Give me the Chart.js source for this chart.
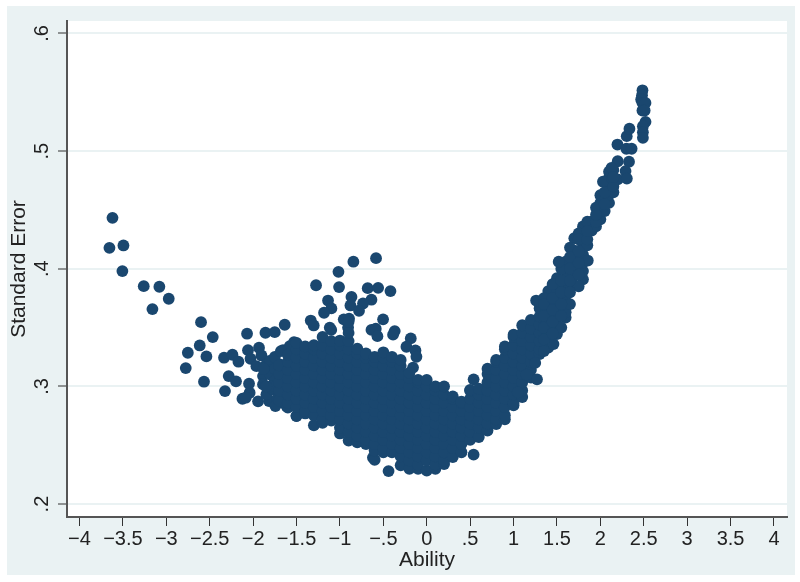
<!DOCTYPE html>
<html>
<head>
<meta charset="utf-8">
<script src="https://cdn.jsdelivr.net/npm/chart.js@4"></script>
<style>
  body { margin: 0; background: #fff; }
  #fundo { position: absolute; left: 7px; top: 6px; width: 788px; height: 569px; background: #eaf2f3; }
  #grafico { position: absolute; left: 0; top: 0; }
</style>
</head>
<body>
<div id="fundo"></div>
<canvas id="grafico" width="800" height="582"></canvas>
<script>
const xTicks = [-4, -3.5, -3, -2.5, -2, -1.5, -1, -0.5, 0, 0.5, 1, 1.5, 2, 2.5, 3, 3.5, 4];
const xTickLabels = ['\u22124', '\u22123.5', '\u22123', '\u22122.5', '\u22122', '\u22121.5', '\u22121', '\u2212.5', '0', '.5', '1', '1.5', '2', '2.5', '3', '3.5', '4'];
const yTicks = [0.2, 0.3, 0.4, 0.5, 0.6];
const yTickLabels = ['.2', '.3', '.4', '.5', '.6'];

// pontos isolados a esquerda
const leftPoints = [
  [-3.62,.4433],[-3.655,.4178],[-3.494,.4198],[-3.506,.398],[-3.26,.3852],[-3.08,.3847],[-2.972,.3745],[-3.16,.3657],
  [-2.6,.3546],[-2.07,.3448],[-1.858,.3456],[-1.751,.3461],[-2.465,.3419],[-2.615,.3348],[-2.752,.3286],[-2.538,.3255],
  [-2.776,.3156],[-2.335,.3244],[-2.238,.3269],[-2.169,.321],[-2.281,.3088],[-2.197,.3043],[-2.566,.304],[-2.324,.296],
  [-2.047,.3023],[-2.04,.2946],[-2.123,.2895],[-2.085,.2904],[-1.943,.2873],[-2.059,.3308],[-2.03,.3235],[-1.932,.3329],
  [-1.904,.3263],[-1.962,.3172],[-1.847,.3187],[-1.886,.3088],[-1.886,.3017],[-1.817,.2875],[-1.743,.2833],[-1.847,.2932],
  [-1.77,.2975],[-1.655,.3308],[-1.529,.3376],[-1.616,.2833],[-1.501,.2748],[-1.694,.3187],[-1.578,.3342],[-1.636,.3524],
  [-1.8,.31],[-1.75,.305],[-1.8,.322],[-1.75,.315],[-1.8,.3],[-1.72,.29],[-1.65,.29],[-1.85,.3],[-1.88,.315],[-1.75,.325],[-1.68,.33]
];

// pontos isolados acima da massa
const upperPoints = [
  [-.845,.406],[-.584,.409],[-1.017,.3974],[-1.275,.386],[-1.01,.3844],[-.68,.3835],[-.56,.3838],[-.418,.381],
  [-.867,.376],[-.637,.3737],[-.734,.3705],[-.879,.3688],[-.78,.3643],[-1.137,.373],[-1.098,.3663],[-1.183,.3626],
  [-.503,.357],[-1.336,.356],[-1.302,.3518],[-.956,.357],[-.895,.3575],[-.906,.35],[-1.117,.35],[-.637,.348],
  [-.587,.349],[-.568,.3427],[-.369,.347],[-.388,.344],[-.184,.3408],[-.234,.3337],[-.13,.3306],[-.119,.3252],[-.158,.316]
];

// pontos isolados abaixo
const lowerPoints = [[-.44,.228],[.54,.242],[.54,.306],[-.62,.2395],[-.6,.2375]];

// massa principal, por coluna de ability
const columnAbility = [-1.7,-1.6,-1.5,-1.4,-1.3,-1.2,-1.1,-1,-.9,-.8,-.7,-.6,-.5,-.4,-.3,-.2,-.1,0,.1,.2,.3,.4,.5,.6,.7,.8,.9,1,1.1,1.2,1.3,1.4,1.5,1.6,1.7,1.8,1.9,2,2.1];
const columnSE = [
  [.288,.2965,.3035,.3105,.318],
  [.282,.286,.293,.3,.307,.314,.321,.327],
  [.275,.2825,.2895,.2965,.3035,.3105,.3175,.3245,.3315,.337],
  [.277,.279,.286,.293,.3,.307,.314,.321,.328,.334],
  [.267,.2755,.2825,.2895,.2965,.3035,.3105,.3175,.3245,.3315,.335],
  [.269,.272,.279,.286,.293,.3,.307,.314,.321,.328,.335,.342],
  [.271,.2755,.2825,.2895,.2965,.3035,.3105,.3175,.3245,.3315,.3385,.348],
  [.26,.265,.272,.279,.286,.293,.3,.307,.314,.321,.328,.335,.339],
  [.254,.2615,.2685,.2755,.2825,.2895,.2965,.3035,.3105,.3175,.3245,.3315,.3385,.3455,.355],
  [.2525,.258,.265,.272,.279,.286,.293,.3,.307,.314,.321,.328,.332],
  [.251,.2545,.2615,.2685,.2755,.2825,.2895,.2965,.3035,.3105,.3175,.3245,.328],
  [.2455,.251,.258,.265,.272,.279,.286,.293,.3,.307,.314,.321,.325],
  [.244,.2475,.2545,.2615,.2685,.2755,.2825,.2895,.2965,.3035,.3105,.3175,.3245,.329],
  [.244,.251,.258,.265,.272,.279,.286,.293,.3,.307,.314,.321,.325],
  [.233,.2405,.2475,.2545,.2615,.2685,.2755,.2825,.2895,.2965,.3035,.3105,.3175,.3225],
  [.23,.237,.244,.251,.258,.265,.272,.279,.286,.293,.3,.307,.3115],
  [.23,.2335,.2405,.2475,.2545,.2615,.2685,.2755,.2825,.2895,.2965,.3035,.3055],
  [.2285,.237,.244,.251,.258,.265,.272,.279,.286,.293,.3,.3055],
  [.23,.2335,.2405,.2475,.2545,.2615,.2685,.2755,.2825,.2895,.2965,.3],
  [.234,.237,.244,.251,.258,.265,.272,.279,.286,.293,.3],
  [.24,.2475,.2545,.2615,.2685,.2755,.2825,.2895,.2915],
  [.244,.251,.258,.265,.272,.279,.286,.287],
  [.2545,.2615,.2685,.2755,.2825,.2895,.2965,.297],
  [.257,.265,.272,.279,.286,.293,.298],
  [.2625,.2685,.2755,.2825,.2895,.2965,.3035,.3105,.315],
  [.268,.272,.279,.286,.293,.3,.307,.314,.321,.3225],
  [.272,.2755,.2825,.2895,.2965,.3035,.3105,.3175,.3245,.3315,.334],
  [.284,.286,.293,.3,.307,.314,.321,.328,.335,.342,.344],
  [.291,.2965,.3035,.3105,.3175,.3245,.3315,.3385,.3455,.352],
  [.3075,.314,.321,.328,.335,.342,.349,.3565],
  [.3275,.3315,.3385,.3455,.3525,.3595,.3665,.372],
  [.333,.342,.349,.356,.363,.37,.377,.381],
  [.3445,.3525,.3595,.3665,.3735,.3805,.387,.392],
  [.3585,.363,.37,.377,.384,.391,.398,.406],
  [.386,.3945,.4015,.4085,.4155,.426],
  [.391,.398,.405,.412,.419,.426,.433,.436],
  [.4325,.44],
  [.442,.449,.456,.4625],
  [.456,.463,.47,.4775,.4825]
];

// braco direito, bordas e miolo
const armPoints = [
  [1.26,.373],[1.35,.375],[1.45,.387],[1.55,.4],[1.52,.406],[1.65,.418],[1.75,.43],[1.85,.44],[1.95,.452],[2.05,.474],[2.15,.484],
  [1.27,.306],[1.46,.336],[1.55,.35],[1.65,.37],[1.75,.385],[1.855,.407],[1.85,.42],[1.95,.436],[2.05,.449],[2.15,.465],[2.2,.476],
  [1.25,.32],[1.15,.31],[1.05,.295],[1.35,.33],[2.197,.5056],[2.304,.5127],[2.335,.519],[2.3,.502],[2.36,.502],[2.33,.491],
  [2.29,.483],[2.305,.4767],[2.2,.4914],[2.128,.4858],[2.03,.474],[2.14,.476],
  [1.35,.34],[1.35,.35],[1.35,.36],[1.35,.37],[1.45,.345],[1.45,.355],[1.45,.365],[1.45,.375],[1.55,.36],[1.55,.37],[1.55,.38],[1.55,.39],
  [1.65,.38],[1.65,.39],[1.65,.4],[1.65,.41],[1.75,.395],[1.75,.405],[1.75,.415],[1.75,.425],[1.85,.425],[1.85,.432],[1.95,.44],[1.95,.446],
  [2.05,.455],[2.05,.465],[2.15,.47],[2.15,.478]
];

// topo, ability perto de 2.5
const topPoints = [
  [2.485,.5517],[2.48,.5475],[2.47,.5439],[2.485,.541],[2.52,.541],[2.485,.5345],[2.51,.5345],
  [2.52,.5249],[2.49,.5212],[2.49,.516],[2.49,.5113]
];

const columnPoints = columnAbility.flatMap((a, i) => columnSE[i].map(se => [a, se]));
const allPoints = [...leftPoints, ...upperPoints, ...lowerPoints, ...columnPoints, ...armPoints, ...topPoints]
  .map(p => ({ x: p[0], y: p[1] }));

const plotBg = {
  id: 'plotBg',
  beforeDraw(chart) {
    const a = chart.chartArea;
    chart.ctx.fillStyle = '#fff';
    chart.ctx.fillRect(a.left, a.top, a.width, a.height);
  }
};

const fonte = 'Liberation Sans, Arial, sans-serif';

new Chart(document.getElementById('grafico').getContext('2d'), {
  type: 'scatter',
  data: { datasets: [{ data: allPoints, backgroundColor: '#1a476f', borderWidth: 0, pointRadius: 5.9, pointHoverRadius: 5.9 }] },
  plugins: [plotBg],
  options: {
    responsive: false,
    animation: false,
    layout: { padding: { top: 21, right: 13, left: 0, bottom: 0 } },
    plugins: { legend: { display: false }, tooltip: { enabled: false } },
    scales: {
      x: {
        type: 'linear',
        min: -4.144,
        max: 4.15,
        afterFit: s => { s.height = 65; },
        afterBuildTicks: s => { s.ticks = xTicks.map(v => ({ value: v })); },
        border: { color: '#555', width: 2 },
        grid: { drawOnChartArea: false, drawTicks: true, tickLength: 9, tickColor: '#333', tickWidth: 1 },
        ticks: {
          color: '#222', font: { family: fonte, size: 20 }, padding: 1, maxRotation: 0, autoSkip: false,
          callback: v => xTickLabels[xTicks.indexOf(v)]
        },
        title: { display: true, text: 'Ability', color: '#222', font: { family: fonte, size: 21 }, padding: { top: 0, bottom: 9 } }
      },
      y: {
        type: 'linear',
        min: 0.189,
        max: 0.6106,
        afterFit: s => { s.width = 67; },
        afterBuildTicks: s => { s.ticks = yTicks.map(v => ({ value: v })); },
        border: { color: '#555', width: 2 },
        grid: { color: '#eaf2f3', lineWidth: 2, drawTicks: true, tickLength: 9, tickColor: '#333', tickWidth: 1 },
        ticks: {
          color: '#222', font: { family: fonte, size: 20 }, padding: 7, minRotation: 90, maxRotation: 90, autoSkip: false,
          crossAlign: 'center',
          callback: v => yTickLabels[yTicks.indexOf(v)]
        },
        title: { display: true, text: 'Standard Error', color: '#222', font: { family: fonte, size: 21 }, padding: { top: 7, bottom: 0 } }
      }
    }
  }
});
</script>
</body>
</html>
